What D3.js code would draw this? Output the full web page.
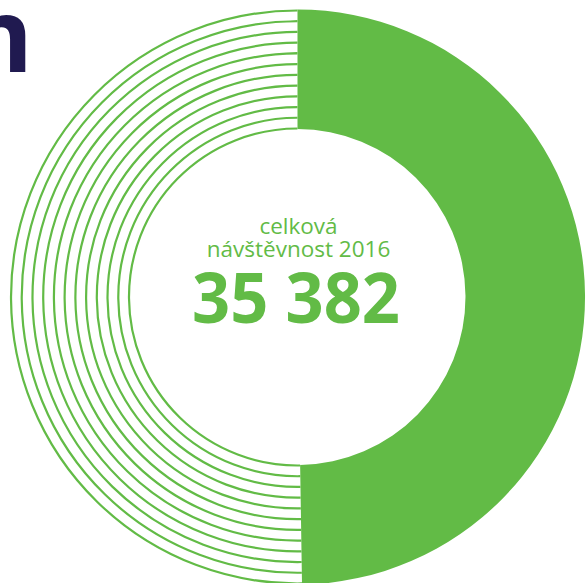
<!DOCTYPE html>
<html>
<head>
<meta charset="utf-8">
<script src="https://cdn.jsdelivr.net/npm/d3@7"></script>
<style>
  html, body { margin: 0; padding: 0; background: #ffffff; overflow: hidden; }
  svg { display: block; }
</style>
</head>
<body>
<svg id="chart" width="586" height="583"></svg>
<script>
// Attendance split: the filled share and the remainder drawn as ring outlines
const categories = ["podíl", "ostatní"];
const shares = [49.75, 50.25];
const ringCount = 12;

const titleTail = "m";
const centerLabelLines = ["celková", "návštěvnost 2016"];
const totalVisitors = 35382;

const green = "#62bb46";
const navy = "#201a50";

const cx = 297.5, cy = 297;
const outerR = 287.5, innerR = 168;

const svg = d3.select("#chart");

// heading fragment at the top-left
svg.append("text")
  .attr("x", 33)
  .attr("y", 72)
  .attr("text-anchor", "end")
  .attr("font-family", "'Open Sans', sans-serif")
  .attr("font-weight", 700)
  .attr("font-size", 102)
  .attr("fill", navy)
  .text(titleTail);

const g = svg.append("g").attr("transform", `translate(${cx},${cy})`);

const pie = d3.pie().sort(null).value(d => d.value);
const slices = pie(categories.map((c, i) => ({ category: c, value: shares[i] })));

// solid share
const arc = d3.arc().innerRadius(innerR).outerRadius(outerR);
g.append("path")
  .attr("d", arc(slices[0]))
  .attr("fill", green);

// remainder as concentric thin rings
const ringRadius = d3.scaleLinear().domain([0, ringCount - 1]).range([outerR - 1, innerR + 0.5]);
const rest = slices[1];
g.selectAll("path.ring")
  .data(d3.range(ringCount))
  .join("path")
  .attr("class", "ring")
  .attr("d", i => d3.arc()
    .innerRadius(ringRadius(i))
    .outerRadius(ringRadius(i))({ startAngle: rest.startAngle, endAngle: rest.endAngle }))
  .attr("fill", "none")
  .attr("stroke", green)
  .attr("stroke-width", 2.2);

// centre label
const label = g.append("text")
  .attr("text-anchor", "middle")
  .attr("font-family", "'Open Sans', sans-serif")
  .attr("font-size", 22.5)
  .attr("fill", green);
label.append("tspan").attr("x", 1).attr("y", -63).text(centerLabelLines[0]);
label.append("tspan").attr("x", 1).attr("y", -40).text(centerLabelLines[1]);

const fmt = d3.formatLocale({ decimal: ",", thousands: " ", grouping: [3], currency: ["", " Kč"] }).format(",d");
g.append("text")
  .attr("x", -1.5)
  .attr("y", 26)
  .attr("text-anchor", "middle")
  .attr("font-family", "'Open Sans', sans-serif")
  .attr("font-weight", 700)
  .attr("font-size", 70)
  .attr("textLength", 208)
  .attr("lengthAdjust", "spacingAndGlyphs")
  .attr("fill", green)
  .text(fmt(totalVisitors));
</script>
</body>
</html>
